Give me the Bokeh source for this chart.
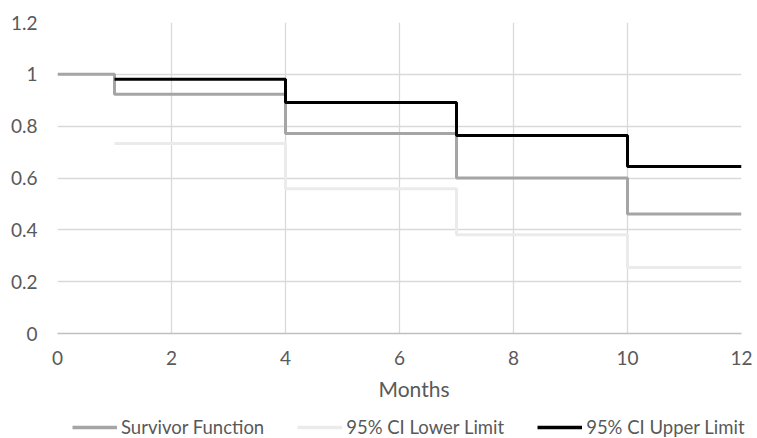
from bokeh.plotting import figure
from bokeh.layouts import column
from bokeh.models import Range1d, FixedTicker, Legend, LegendItem, CustomJSTickFormatter, Title
from bokeh.embed import file_html
from bokeh.resources import INLINE

# Data
surv_months = [0, 1, 4, 7, 10, 12]
survivor = [1.0, 0.923, 0.772, 0.600, 0.461, 0.461]

ci_months = [1, 4, 7, 10, 12]
ci_lower = [0.733, 0.559, 0.381, 0.255, 0.255]
ci_upper = [0.981, 0.891, 0.764, 0.644, 0.644]

x_ticks = [0, 2, 4, 6, 8, 10, 12]
y_ticks = [0, 0.2, 0.4, 0.6, 0.8, 1.0, 1.2]

series_names = ["Survivor Function", "95% CI Lower Limit", "95% CI Upper Limit"]
series_colors = ["#A5A5A5", "#EBEBEB", "#000000"]
x_title = "Months"

FONT = "Lato"
TXT = "#595959"

p = figure(width=757, height=415, output_backend="svg", toolbar_location=None,
           x_range=Range1d(0, 12), y_range=Range1d(0, 1.2),
           min_border_left=57, min_border_right=16, min_border_top=22,
           min_border_bottom=82)
p.frame_align = False
p.outline_line_color = None
p.background_fill_color = "white"

for ax in (p.xaxis, p.yaxis):
    ax.major_tick_line_color = None
    ax.minor_tick_line_color = None
    ax.major_tick_out = 0
    ax.major_tick_in = 0
    ax.minor_tick_out = 0
    ax.major_label_text_font = FONT
    ax.major_label_text_font_size = "19px"
    ax.major_label_text_color = TXT

p.xaxis.ticker = FixedTicker(ticks=x_ticks)
p.yaxis.ticker = FixedTicker(ticks=y_ticks)
p.yaxis.formatter = CustomJSTickFormatter(code="return Number(tick.toFixed(1)).toString();")
p.xaxis.axis_line_color = "#BFBFBF"
p.xaxis.axis_line_width = 1.3
p.yaxis.axis_line_color = None
p.xaxis.major_label_standoff = 17
p.yaxis.major_label_standoff = 20

# x-axis title (placed slightly right of centre, as in the reference)
p.add_layout(Title(text=x_title, align="left", offset=321, standoff=14,
                   vertical_align="middle", text_font=FONT, text_font_size="21px",
                   text_font_style="normal", text_color=TXT), "below")

p.xgrid.ticker = FixedTicker(ticks=x_ticks)
p.ygrid.ticker = FixedTicker(ticks=y_ticks)
for g in (p.xgrid, p.ygrid):
    g.grid_line_color = "#D9D9D9"
    g.grid_line_width = 1.3

p.step(surv_months, survivor, mode="after", line_color=series_colors[0], line_width=3)
p.step(ci_months, ci_lower, mode="after", line_color=series_colors[1], line_width=3)
p.step(ci_months, ci_upper, mode="after", line_color=series_colors[2], line_width=3)

# Legend strip below the chart
leg = figure(width=757, height=23, output_backend="svg", toolbar_location=None,
             x_range=Range1d(100, 101), y_range=Range1d(100, 101),
             x_axis_type=None, y_axis_type=None,
             min_border_left=0, min_border_right=0, min_border_top=0, min_border_bottom=0)
leg.frame_align = False
leg.outline_line_color = None
leg.grid.visible = False
leg_x = [surv_months, ci_months, ci_months]
leg_y = [survivor, ci_lower, ci_upper]
items = []
for name, col, xs, ys in zip(series_names, series_colors, leg_x, leg_y):
    r = leg.line(xs, ys, line_color=col, line_width=3.5)
    items.append(LegendItem(label=name, renderers=[r]))
legend = Legend(items=items, location=(72, 0), orientation="horizontal",
                glyph_width=45, glyph_height=18, label_standoff=4, spacing=33,
                padding=0, margin=0, border_line_color=None, background_fill_alpha=0,
                label_text_font=FONT, label_text_font_size="18.5px", label_text_color=TXT)
leg.add_layout(legend, "center")

open("out.html", "w").write(file_html(column(p, leg, spacing=0), INLINE))
